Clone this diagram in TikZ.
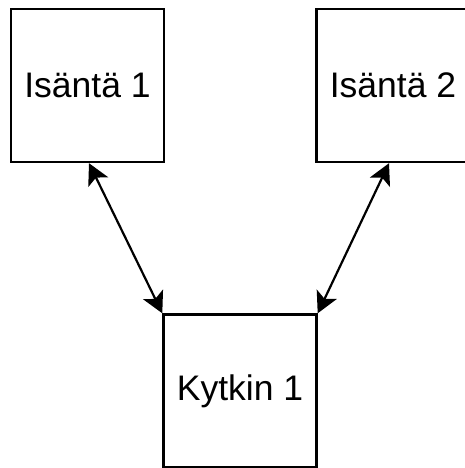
\documentclass[tikz,border=0pt]{standalone}
\usepackage{fontspec}
\setmainfont{Liberation Sans}
\usetikzlibrary{arrows.meta}
\begin{document}
\begin{tikzpicture}[x=1pt,y=-1pt,
  box/.style={draw=black, line width=2.4pt, fill=white, minimum width=153pt,
    minimum height=153pt, inner sep=0pt, font=\fontsize{35.5}{40}\selectfont},
  head/.tip={Stealth[length=21pt,width=22pt,inset=5pt]},
  link/.style={line width=2.2pt, head-head}]
  \useasboundingbox (0,0) rectangle (465,468);
  % hosts and switch
  \node[box] (h1) at (87.5,85.5) {Isäntä 1};
  \node[box] (h2) at (393,85.5) {Isäntä 2};
  \node[box] (k1) at (240,391) {Kytkin 1};
  % links
  \draw[link] ([xshift=1.5pt]h1.south) -- (k1.north west);
  \draw[link] ([xshift=-4pt]h2.south) -- (k1.north east);
\end{tikzpicture}
\end{document}
